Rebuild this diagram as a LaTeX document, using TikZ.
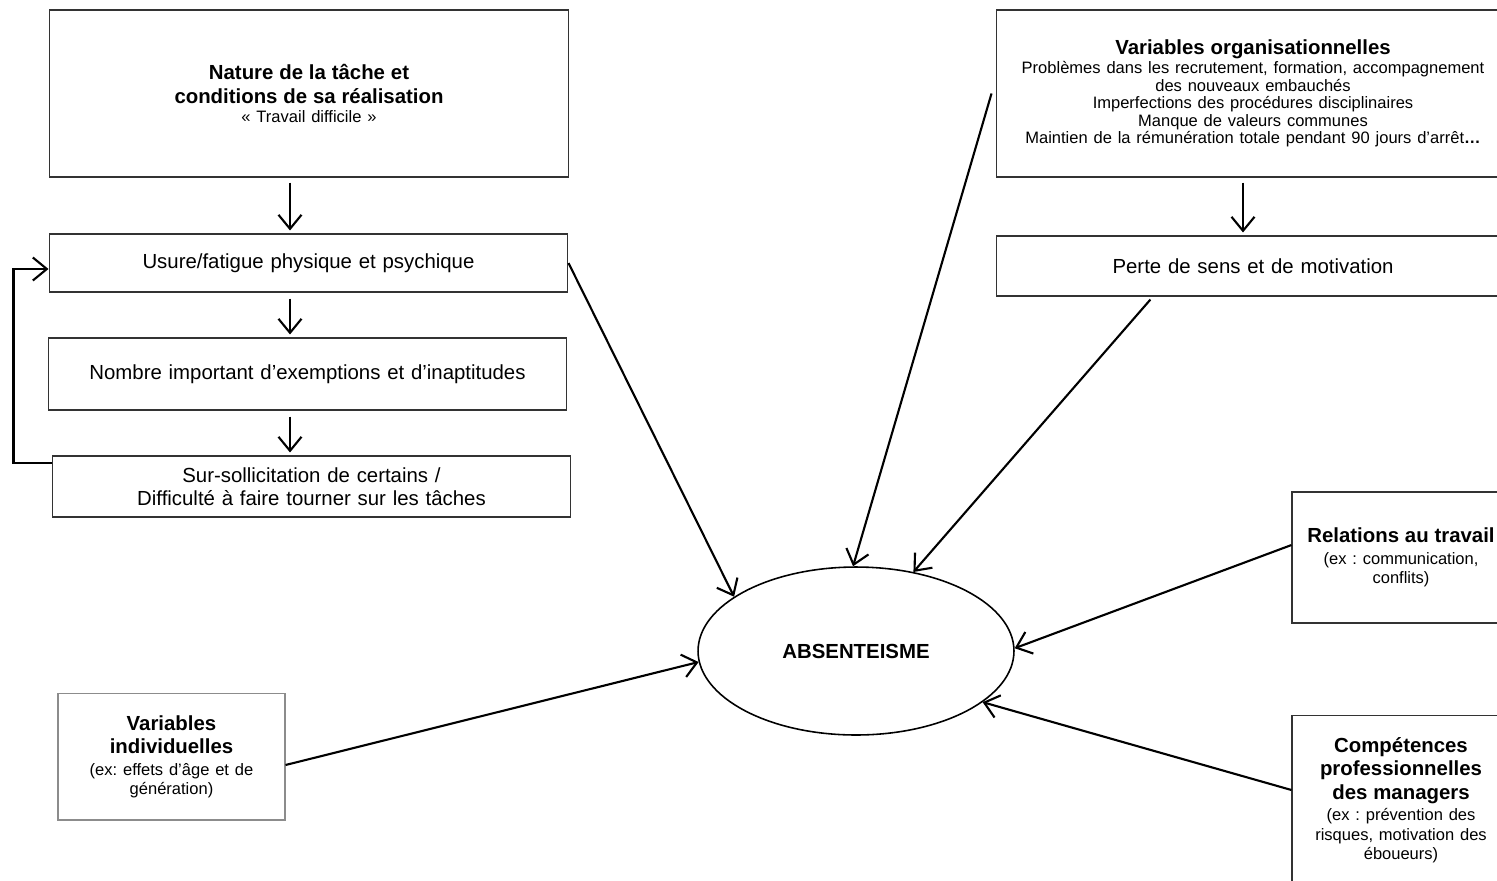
\documentclass[tikz,border=0pt]{standalone}
\usepackage{fontspec}
\setmainfont{Liberation Sans}
\usetikzlibrary{arrows.meta,shapes.geometric,calc}
\frenchspacing
\newcommand\ttlf{\fontsize{11.6}{13.3}\selectfont\bfseries}
\newcommand\smlf{\fontsize{9.4}{9.9}\selectfont\mdseries}
\newcommand\smlfb{\fontsize{9.4}{10.9}\selectfont\mdseries}
\newcommand\nrmf{\fontsize{11.6}{13}\selectfont}
\begin{document}
\begin{tikzpicture}[x=0.02cm,y=-0.02cm,
  box/.style={draw=black!80,line width=0.6pt,inner xsep=2pt,inner ysep=0pt,align=center,fill=white},
  graybox/.style={box,draw=black!45},
  conn/.style={line width=1.2pt,-{Straight Barb[length=2.8mm,width=4.6mm]}}]
\useasboundingbox (0,0) rectangle (1497,880);
\clip (0,0) rectangle (1497,880);

% left column
\node[box,text width=10.26cm,minimum height=3.34cm] (nature) at (309,93.5)
  {{\ttlf Nature de la tâche et\\conditions de sa réalisation\par}\vspace{1pt}{\smlf « Travail difficile »\par}};
\node[box,text width=10.24cm,minimum height=1.16cm,font=\nrmf] (usure) at (308.5,263)
  {Usure/fatigue physique et psychique};
\node[box,text width=10.24cm,minimum height=1.44cm,font=\nrmf] (nombre) at (307.5,374)
  {Nombre important d’exemptions et d’inaptitudes};
\node[box,text width=10.24cm,minimum height=1.22cm,font=\nrmf] (sur) at (311.5,486.5)
  {Sur-sollicitation de certains /\\Difficulté à faire tourner sur les tâches};

% right column
\node[box,text width=10.14cm,minimum height=3.34cm] (varorg) at (1253,93.5)
  {{\ttlf Variables organisationnelles\par}\vspace{1pt}{\smlf Problèmes dans les recrutement, formation, accompagnement\\des nouveaux embauchés\\Imperfections des procédures disciplinaires\\Manque de valeurs communes\\Maintien de la rémunération totale pendant 90 jours d’arrêt\textbf{…}\par}};
\node[box,text width=10.14cm,minimum height=1.2cm,font=\nrmf] (perte) at (1253,266)
  {Perte de sens et de motivation};
\node[box,text width=4.22cm,minimum height=2.62cm] (rel) at (1401,557.5)
  {{\ttlf Relations au travail\par}\vspace{1.5pt}{\smlfb (ex : communication,\\conflits)\par}};
\node[box,text width=4.22cm,minimum height=3.4cm] (comp) at (1401,800)
  {{\ttlf Compétences\\professionnelles\\des managers\par}\vspace{1.5pt}{\smlfb (ex : prévention des\\risques, motivation des\\éboueurs)\par}};
\node[graybox,text width=4.4cm,minimum height=2.54cm] (varind) at (171.5,756.5)
  {{\ttlf Variables\\individuelles\par}\vspace{1.5pt}{\smlfb (ex: effets d’âge et de\\génération)\par}};

% centre
\node[draw,ellipse,line width=0.9pt,minimum width=6.32cm,minimum height=3.36cm,inner sep=0pt,font=\ttlf] (abs) at (856,651) {ABSENTEISME};

% vertical arrows
\coordinate (cl) at (290,0);
\coordinate (cr) at (1243,0);
\draw[conn,shorten <=0.1cm,shorten >=0.06cm] (nature.south -| cl) -- (usure.north -| cl);
\draw[conn,shorten <=0.12cm,shorten >=0.06cm] (usure.south -| cl) -- (nombre.north -| cl);
\draw[conn,shorten <=0.12cm,shorten >=0.06cm] (nombre.south -| cl) -- (sur.north -| cl);
\draw[conn,shorten <=0.1cm,shorten >=0.06cm] (varorg.south -| cr) -- (perte.north -| cr);

% feedback loop
\draw[conn] ([yshift=0.47cm]sur.west) -- ++(-38,0) |- ([yshift=-0.12cm]usure.west);

% arrows to absenteisme
\draw[conn] (usure.east) -- (abs.156);
\draw[conn] ([xshift=-0.08cm]varorg.west) -- (abs.92);
\draw[conn,shorten <=0.08cm] ([xshift=-2cm]perte.south) -- (abs.54);
\draw[conn] ([yshift=0.25cm]rel.west) -- (abs.1);
\draw[conn] ([yshift=0.2cm]comp.west) -- (abs.-22);
\draw[conn] ([yshift=-0.17cm]varind.east) -- (abs.184);
\end{tikzpicture}
\end{document}
